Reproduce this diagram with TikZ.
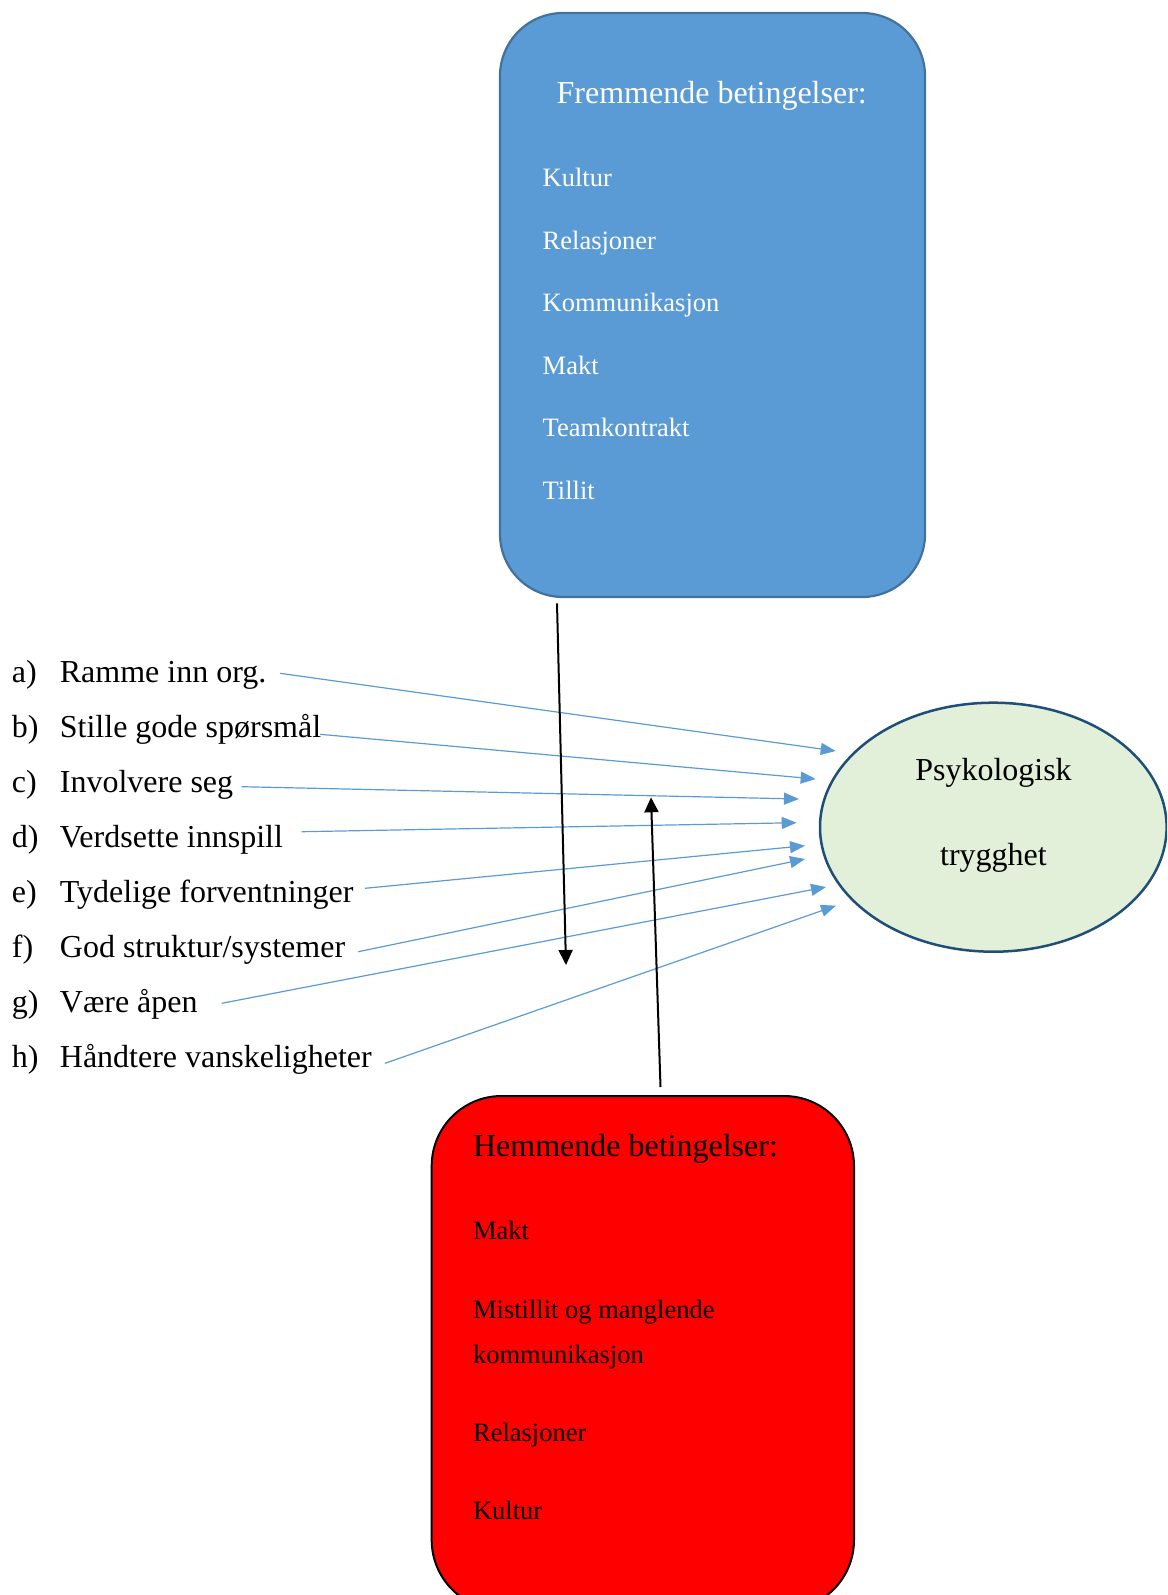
\documentclass[tikz,border=0pt]{standalone}
\usepackage{fontspec}
\setmainfont{Liberation Serif}
\usetikzlibrary{arrows.meta,shapes.geometric}
\definecolor{fremblue}{HTML}{5B9BD5}
\definecolor{fremedge}{HTML}{41719C}
\definecolor{trygfill}{HTML}{E2F0D9}
\definecolor{trygedge}{HTML}{1F4E79}
\definecolor{hemred}{HTML}{FF0000}

\begin{document}
\begin{tikzpicture}[x=0.5pt,y=-0.5pt,
  bigtext/.style={font=\fontsize{16}{19}\selectfont, inner sep=0pt, anchor=base west},
  smalltext/.style={font=\fontsize{13.25}{16}\selectfont, inner sep=0pt, anchor=base west},
  feed/.style={draw=fremblue, line width=0.6pt, -{Triangle[length=7.5pt,width=6pt]}},
  flow/.style={draw=black, line width=1pt, -{Triangle[length=7.5pt,width=7pt]}}]
\useasboundingbox (0,0) rectangle (1167,1595);
\clip (0,0) rectangle (1167,1595);

% promoting conditions
\node (frem) [draw=fremedge, fill=fremblue, line width=1.1pt, rounded corners=31.5pt,
  minimum width=212.5pt, minimum height=292pt, inner sep=0pt] at (712.5,305) {};
\node (fremtitle) [bigtext, anchor=base, text=white] at (711.7,103.3) {Fremmende betingelser:};
\node (f1) [smalltext, text=white] at (542.3,186)   {Kultur};
\node (f2) [smalltext, text=white] at (542.3,249)   {Relasjoner};
\node (f3) [smalltext, text=white] at (542.3,311.7) {Kommunikasjon};
\node (f4) [smalltext, text=white] at (542.3,374.3) {Makt};
\node (f5) [smalltext, text=white] at (542.3,436.7) {Teamkontrakt};
\node (f6) [smalltext, text=white] at (542.3,499.3) {Tillit};

% inhibiting conditions
\node (hem) [draw=black, fill=hemred, line width=1pt, rounded corners=35pt,
  minimum width=211.15pt, minimum height=257pt, inner sep=0pt] at (642.85,1353) {};
\node (hemtitle) [bigtext] at (472.7,1156.7) {Hemmende betingelser:};
\node (h1) [smalltext] at (472.7,1239.5) {Makt};
\node (h2) [smalltext] at (472.7,1318.3) {Mistillit og manglende};
\node (h3) [smalltext] at (472.7,1363.3) {kommunikasjon};
\node (h4) [smalltext] at (472.7,1441.7) {Relasjoner};
\node (h5) [smalltext] at (472.7,1519.3) {Kultur};

% psychological safety
\node (tryg) [ellipse, draw=trygedge, fill=trygfill, line width=1.25pt,
  minimum width=173.3pt, minimum height=124.5pt, inner sep=0pt] at (993.3,827.2) {};
\node (tryg1) [bigtext, anchor=base] at (993.5,780) {Psykologisk};
\node (tryg2) [bigtext, anchor=base] at (993.5,865) {trygghet};

% list of leader actions
\node (ma) [bigtext] at (11.5,682.5)  {a)};
\node (mb) [bigtext] at (11.5,737.5)  {b)};
\node (mc) [bigtext] at (11.5,792.6)  {c)};
\node (md) [bigtext] at (11.5,847.6)  {d)};
\node (me) [bigtext] at (11.5,902.7)  {e)};
\node (mf) [bigtext] at (11.5,957.7)  {f)};
\node (mg) [bigtext] at (11.5,1012.8) {g)};
\node (mh) [bigtext] at (11.5,1067.8) {h)};
\node (la) [bigtext] at (59.5,682.5)  {Ramme inn org.};
\node (lb) [bigtext] at (59.5,737.5)  {Stille gode spørsmål};
\node (lc) [bigtext] at (59.5,792.6)  {Involvere seg};
\node (ld) [bigtext] at (59.5,847.6)  {Verdsette innspill};
\node (le) [bigtext] at (59.5,902.7)  {Tydelige forventninger};
\node (lf) [bigtext] at (59.5,957.7)  {God struktur/systemer};
\node (lg) [bigtext] at (59.5,1012.8) {Være åpen};
\node (lh) [bigtext] at (59.5,1067.8) {Håndtere vanskeligheter};

% arrow end points
\coordinate (sa) at (280,673.3);   \coordinate (ta) at (835.7,751);
\coordinate (sb) at (320,734.3);   \coordinate (tb) at (815.7,779);
\coordinate (sc) at (241.7,786.7); \coordinate (tc) at (799,799);
\coordinate (sd) at (301.7,831.7); \coordinate (td) at (796.7,822.7);
\coordinate (se) at (365,888.3);   \coordinate (te) at (805,845.7);
\coordinate (sf) at (358.3,951.7); \coordinate (tf) at (805,859);
\coordinate (sg) at (221.7,1003.3);\coordinate (tg) at (826,887);
\coordinate (sh) at (385,1063.3);  \coordinate (th) at (836,905.7);
\coordinate (fremout) at (557,603.3); \coordinate (fremend) at (566,965);
\coordinate (hemout) at (660.5,1087); \coordinate (hemend) at (651,797.3);

\foreach \k in {a,b,c,d,e,f,g,h} { \draw[feed] (s\k) -- (t\k); }

\draw[flow] (fremout) -- (fremend);
\draw[flow] (hemout) -- (hemend);
\end{tikzpicture}
\end{document}
